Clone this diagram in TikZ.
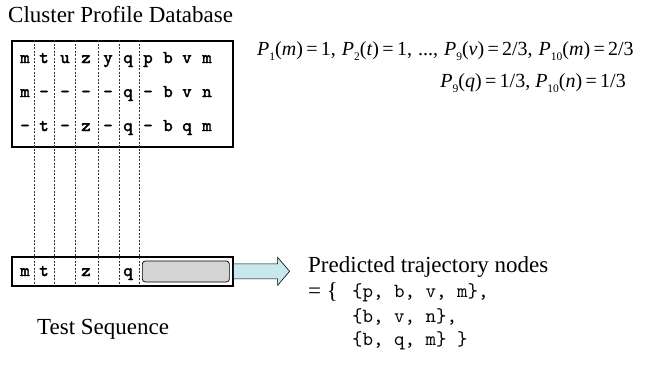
\documentclass[tikz,border=0pt]{standalone}
\usepackage{fontspec}
\setmainfont{Liberation Serif}
\newfontfamily\cellfont[FakeBold=2.2]{lmmono10-regular.otf}
\newfontfamily\setfont{lmmono10-regular.otf}
\usetikzlibrary{calc}

\definecolor{arrowfill}{HTML}{C8E8EC}
\definecolor{slotfill}{HTML}{D4D4D4}

% probability term P_i(x)
\newcommand{\probof}[2]{\textit{P}\raisebox{-0.28em}{\fontsize{11.5pt}{11.5pt}\selectfont #1}(\textit{#2})}
\newcommand{\gap}{\hspace{0.3em}}

\tikzset{
  frame/.style={draw=black, line width=1.6pt},
  guide/.style={draw=black!80, line width=0.6pt, dash pattern=on 2pt off 1.5pt},
  cell/.style={font=\fontsize{18pt}{18pt}\cellfont, inner sep=0pt, anchor=base},
  caption/.style={font=\fontsize{23pt}{24pt}\selectfont, inner sep=0pt},
  eqn/.style={font=\fontsize{20pt}{21pt}\selectfont, inner sep=0pt},
  setline/.style={font=\fontsize{20pt}{21pt}\setfont, inner sep=0pt, anchor=west},
}

\begin{document}
\begin{tikzpicture}[x=1pt, y=-1pt]
\useasboundingbox (0,0) rectangle (645,367);

% titles
\node[caption, anchor=west] (title) at (8,15) {Cluster Profile Database};
\node[caption, anchor=west] (testlbl) at (37,329) {Test Sequence};

% profile database box and test sequence box
\node[frame, minimum width=221pt, minimum height=106pt, anchor=north west, inner sep=0pt] (db) at (11,40) {};
\node[frame, minimum width=221pt, minimum height=29pt, anchor=north west, inner sep=0pt] (ts) at (11,256) {};

% column guides running through both boxes
\foreach \gx [count=\i] in {34,54,75,98,119,139} {
  \coordinate (gt\i) at (\gx,40);
  \coordinate (gb\i) at (\gx,285);
  \draw[guide] (gt\i) -- (gb\i);
}

% database rows (y = baseline)
\foreach \row/\gy in {{m,t,u,z,y,q,p,b,v,m}/63, {m,-,-,-,-,q,-,b,v,n}/97, {-,t,-,z,-,q,-,b,q,m}/131} {
  \foreach \ch [count=\j] in \row {
    \pgfmathsetmacro{\cx}{{25,44,65,86,108,128,148,168,187,207}[\j-1]}
    \node[cell] (c\j-\gy) at (\cx,\gy) {\ch};
  }
}

% test sequence symbols
\node[cell] (s1) at (25,276) {m};
\node[cell] (s2) at (44,276) {t};
\node[cell] (s4) at (86,276) {z};
\node[cell] (s6) at (128,276) {q};

% empty slot to be predicted
\node[draw=black, fill=slotfill, rounded corners=3pt, line width=0.7pt,
      minimum width=87pt, minimum height=21pt, inner sep=0pt, anchor=west] (slot) at (142,271.5) {};

% output arrow
\coordinate (ab) at (ts.east);
\draw[fill=arrowfill, line width=0.6pt]
  ($(ab)+(0,-7.5)$) -- ++(44,0) -- ++(0,-6.5) -- ++(12,14) -- ++(-12,14) -- ++(0,-6.5) -- ++(-44,0) -- cycle;

% probabilities
\node[eqn, anchor=west] (eq1) at (257,51) {\probof{1}{m}\,=\,1,\gap\probof{2}{t}\,=\,1,\gap...,\gap\probof{9}{v}\,=\,2/3,\gap\probof{10}{m}\,=\,2/3};
\node[eqn, anchor=east] (eq2) at (626,83) {\probof{9}{q}\,=\,1/3, \probof{10}{n}\,=\,1/3};

% prediction result
\node[caption, anchor=west] (pred) at (308,267) {Predicted trajectory nodes};
\node[caption, anchor=west] (eqs) at (308,292) {= \{};
\node[setline] (set1) at (352,293) {\{p, b, v, m\},};
\node[setline] (set2) at (352,317) {\{b, v, n\},};
\node[setline] (set3) at (352,341) {\{b, q, m\} \}};
\end{tikzpicture}
\end{document}
